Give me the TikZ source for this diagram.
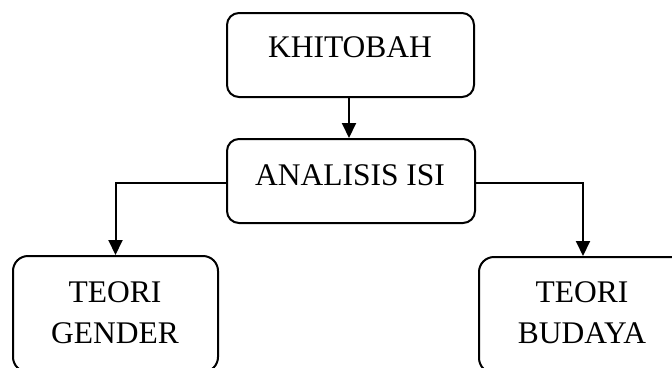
\documentclass[tikz,border=0pt]{standalone}
\usepackage{fontspec}
\setmainfont{Liberation Serif}
\usetikzlibrary{arrows.meta}
\begin{document}
\begin{tikzpicture}[x=1pt,y=-1pt,
  box/.style={draw, line width=2pt, rounded corners=12pt, inner sep=0pt, shape=rectangle},
  lbl/.style={font=\fontsize{31.5}{41}\selectfont, align=center, inner sep=0pt, anchor=base},
  conn/.style={line width=2pt, -{Triangle[length=15pt,width=14pt]}}]
\useasboundingbox (0,0) rectangle (672,367);
\clip (0,0) rectangle (672,367);
% boxes
\node[box, minimum width=247pt, minimum height=84pt] (k) at (350.5,55) {};
\node[box, minimum width=248pt, minimum height=84pt] (a) at (351,181) {};
\node[box, rounded corners=15pt, minimum width=205pt, minimum height=116pt] (g) at (115.5,314) {};
\node[box, rounded corners=15pt, minimum width=208pt, minimum height=116pt] (b) at (583,315) {};
% labels
\node[lbl] (kt) at (350,57.5) {KHITOBAH};
\node[lbl] (at) at (350,185.5) {ANALISIS ISI};
\node[lbl] (gt) at (115,343.4) {TEORI\\GENDER};
\node[lbl] (bt) at (582,343.4) {TEORI\\BUDAYA};
% connectors
\draw[conn] (k.south -| 349,0) -- (a.north -| 349,0);
\draw[conn] ([yshift=-2pt]a.west) -| (g.north);
\draw[conn] ([yshift=-2pt]a.east) -| (b.north);
\end{tikzpicture}
\end{document}
